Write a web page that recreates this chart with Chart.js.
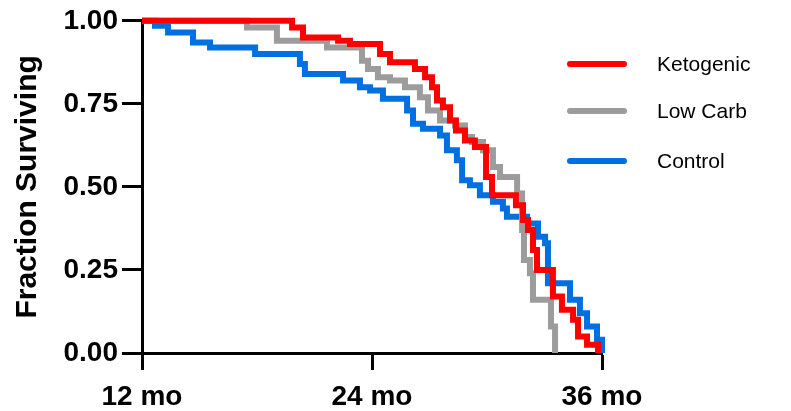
<!DOCTYPE html>
<html>
<head>
<meta charset="utf-8">
<script src="https://cdn.jsdelivr.net/npm/chart.js@4.4.1/dist/chart.umd.min.js"></script>
<style>
  html, body { margin: 0; padding: 0; background: #fff; }
  #wrap { width: 791px; height: 411px; }
</style>
</head>
<body>
<div id="wrap"><canvas id="survival_chart" width="791" height="411"></canvas></div>
<script>
// survival curves, months vs fraction surviving
var seriesNames = ['Ketogenic', 'Low Carb', 'Control'];
var seriesColors = ['#ff0000', '#9c9c9c', '#006fdf'];

var ketoMonths = [12, 19.83, 20.40, 22.23, 22.85, 24.42, 24.94, 26.24, 26.77, 27.13, 27.39, 27.70, 28.07, 28.38, 28.85, 29.37, 29.95, 30.26, 31.51, 31.88, 32.14, 32.40, 32.61, 33.44, 33.91, 34.49, 34.75, 35.22, 35.79];
var ketoSurv   = [1.00, 0.98, 0.95, 0.94, 0.93, 0.90, 0.875, 0.855, 0.83, 0.80, 0.76, 0.74, 0.70, 0.67, 0.64, 0.62, 0.53, 0.475, 0.445, 0.40, 0.37, 0.31, 0.25, 0.17, 0.13, 0.10, 0.05, 0.025, 0.00];

var lowCarbMonths = [12, 17.48, 19.04, 21.65, 23.48, 23.79, 24.31, 24.94, 25.72, 26.50, 26.92, 27.55, 28.33, 28.85, 29.22, 29.79, 30.31, 30.68, 31.57, 31.83, 31.93, 32.24, 32.40, 33.34, 33.55];
var lowCarbSurv   = [1.00, 0.98, 0.94, 0.92, 0.88, 0.855, 0.83, 0.82, 0.80, 0.77, 0.73, 0.70, 0.685, 0.65, 0.635, 0.61, 0.56, 0.53, 0.48, 0.37, 0.28, 0.24, 0.16, 0.08, 0.00];

var controlMonths = [12, 12.68, 13.36, 14.66, 15.55, 17.90, 20.24, 20.50, 22.49, 23.37, 23.90, 24.57, 25.83, 26.14, 26.66, 27.55, 27.91, 28.43, 28.70, 29.11, 29.63, 30.31, 30.83, 31.04, 32.09, 32.66, 33.03, 33.18, 34.33, 34.85, 35.22, 35.74, 36.00];
var controlSurv   = [1.00, 0.985, 0.965, 0.935, 0.92, 0.90, 0.87, 0.84, 0.82, 0.80, 0.79, 0.765, 0.73, 0.69, 0.675, 0.655, 0.61, 0.58, 0.52, 0.505, 0.475, 0.455, 0.435, 0.41, 0.39, 0.35, 0.33, 0.21, 0.16, 0.12, 0.08, 0.04, 0.00];

var xTicks = [12, 24, 36];
var yTicks = [0, 0.25, 0.5, 0.75, 1];

function to_points(months, surv) {
    var pts = [];
    for (var i = 0; i < months.length; i++) {
        pts.push({ x: months[i], y: surv[i] });
    }
    return pts;
}

var allMonths = [ketoMonths, lowCarbMonths, controlMonths];
var allSurv = [ketoSurv, lowCarbSurv, controlSurv];
var datasets = [];
for (var s = 0; s < seriesNames.length; s++) {
    datasets.push({
        label: seriesNames[s],
        data: to_points(allMonths[s], allSurv[s]),
        borderColor: seriesColors[s],
        backgroundColor: seriesColors[s],
        borderWidth: 6,
        stepped: true,
        pointRadius: 0,
        fill: false,
        clip: 6
    });
}

// legend drawn on the right, like the original figure
var side_legend = {
    id: 'side_legend',
    afterDraw: function (chart) {
        var ctx = chart.ctx;
        var rows = [64, 111, 161];
        ctx.save();
        chart.data.datasets.forEach(function (ds, i) {
            ctx.strokeStyle = ds.borderColor;
            ctx.lineWidth = 6;
            ctx.lineCap = 'round';
            ctx.beginPath();
            ctx.moveTo(570, rows[i]);
            ctx.lineTo(624, rows[i]);
            ctx.stroke();
            ctx.fillStyle = '#000';
            ctx.font = '21px "Liberation Sans", Arial, sans-serif';
            ctx.textBaseline = 'middle';
            ctx.textAlign = 'left';
            ctx.fillText(ds.label, 657, rows[i] + 1);
        });
        ctx.restore();
    }
};

var tickFont = { family: '"Liberation Sans", Arial, sans-serif', size: 28, weight: 'bold' };

var survival_chart = new Chart(document.getElementById('survival_chart').getContext('2d'), {
    type: 'line',
    data: { datasets: datasets },
    options: {
        responsive: false,
        animation: false,
        layout: {
            padding: { left: 0, right: 189, top: 20, bottom: 0 }
        },
        plugins: {
            legend: { display: false },
            tooltip: { enabled: false }
        },
        scales: {
            x: {
                type: 'linear',
                min: 12,
                max: 36,
                afterFit: function (scale) { scale.height = 58; },
                afterBuildTicks: function (scale) {
                    scale.ticks = xTicks.map(function (v) { return { value: v }; });
                },
                ticks: {
                    color: '#000',
                    font: tickFont,
                    padding: 10,
                    maxRotation: 0,
                    callback: function (v) { return v + ' mo'; }
                },
                grid: {
                    drawOnChartArea: false,
                    drawTicks: true,
                    tickLength: 17,
                    tickWidth: 3,
                    tickColor: '#000'
                },
                border: { color: '#000', width: 3 }
            },
            y: {
                min: 0,
                max: 1,
                afterFit: function (scale) { scale.width = 142; },
                afterBuildTicks: function (scale) {
                    scale.ticks = yTicks.map(function (v) { return { value: v }; });
                },
                ticks: {
                    color: '#000',
                    font: tickFont,
                    padding: 4,
                    callback: function (v) { return v.toFixed(2); }
                },
                grid: {
                    drawOnChartArea: false,
                    drawTicks: true,
                    tickLength: 20,
                    tickWidth: 3,
                    tickColor: '#000'
                },
                border: { color: '#000', width: 3 },
                title: {
                    display: true,
                    text: 'Fraction Surviving',
                    color: '#000',
                    font: { family: '"Liberation Sans", Arial, sans-serif', size: 30, weight: 'bold' },
                    padding: { top: 10, bottom: 0 }
                }
            }
        }
    },
    plugins: [side_legend]
});
</script>
</body>
</html>
